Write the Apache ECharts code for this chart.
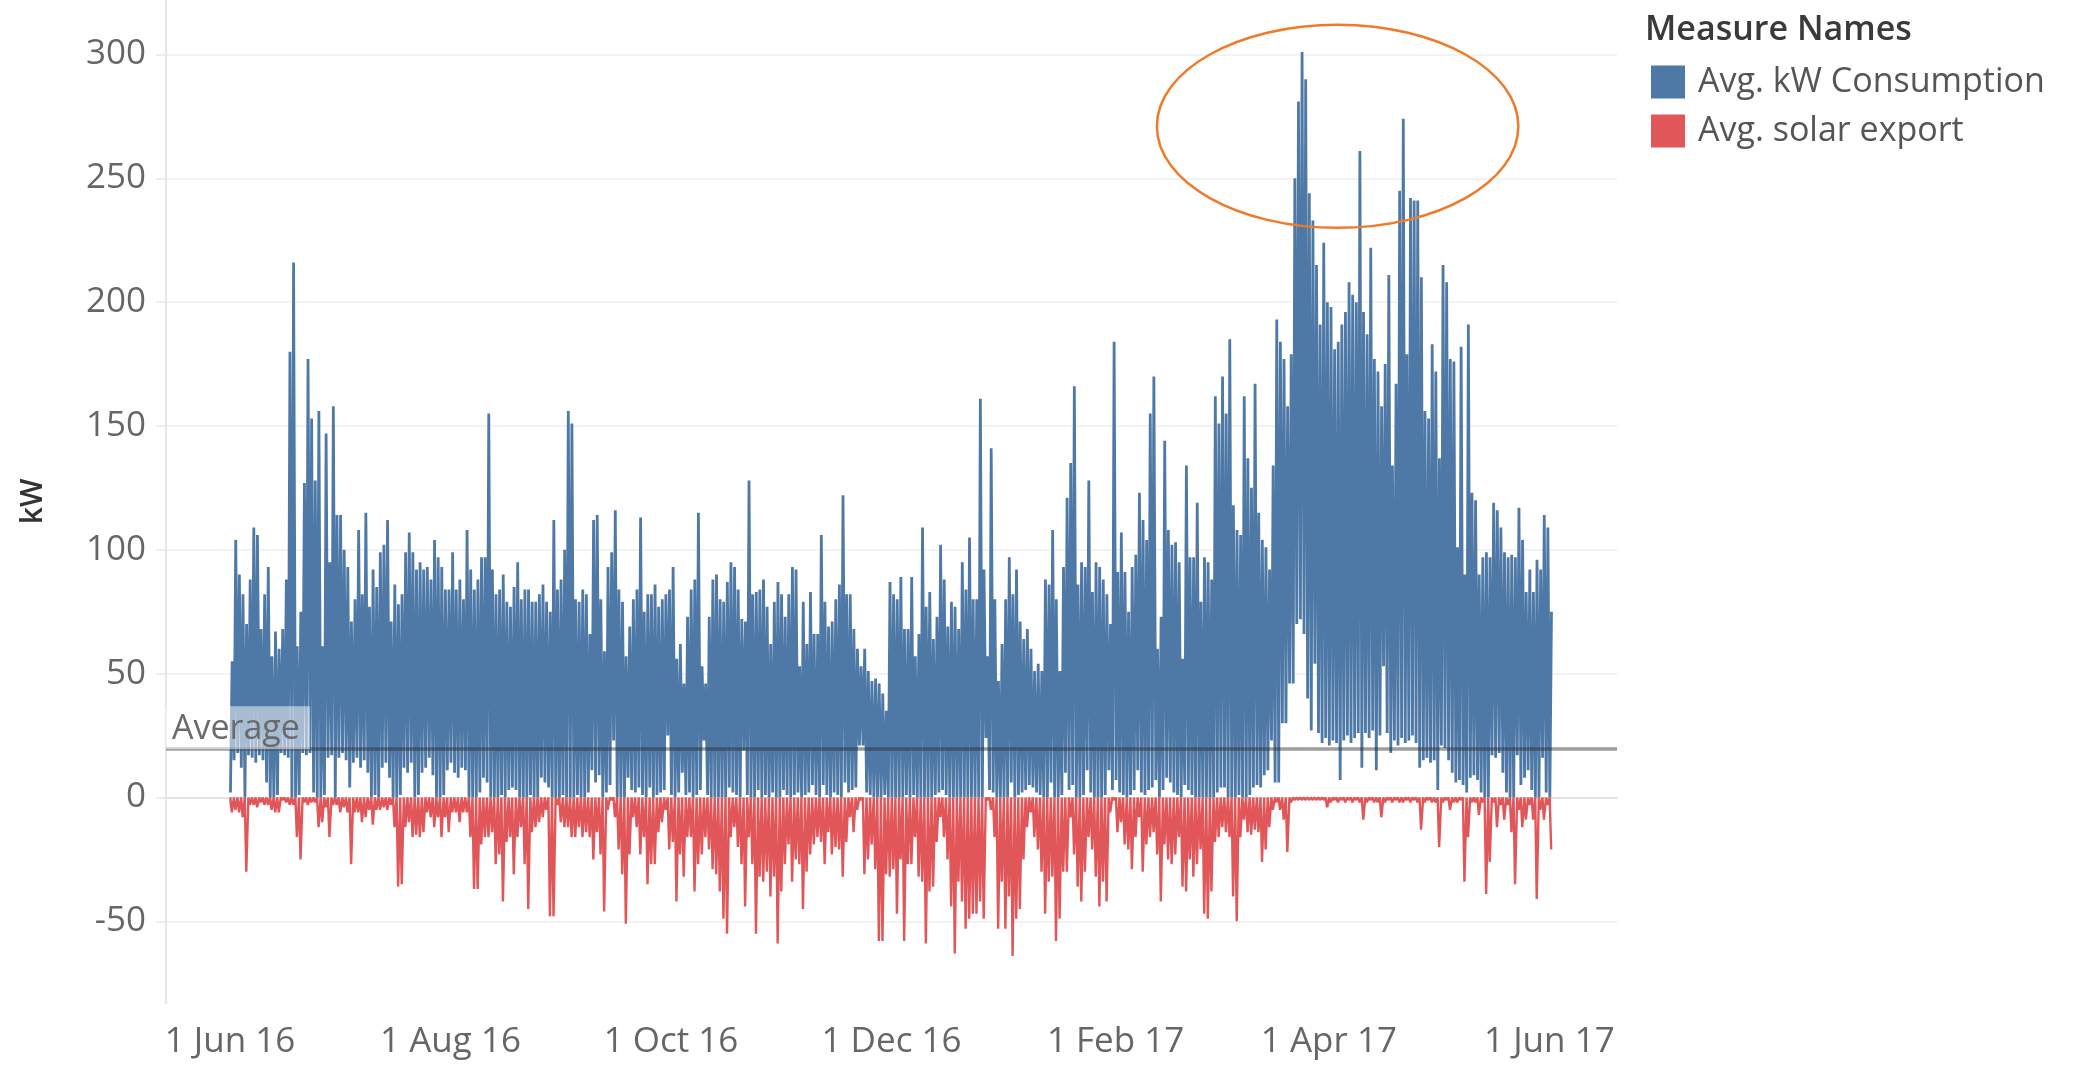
<!DOCTYPE html>
<html>
<head>
<meta charset="utf-8">
<script src="https://cdn.jsdelivr.net/npm/echarts@6/dist/echarts.min.js"></script>
<style>
html,body{margin:0;padding:0;background:#fff;}
#main{width:2078px;height:1067px;}
</style>
</head>
<body>
<div id="main"></div>
<script>
// day 0 = 1 Jun 2016, one entry per day
//每日最高 kW (Avg. kW Consumption)
var peakJunAug = [
	55,104,90,82,70,88,109,106,68,82,
	93,57,67,60,68,88,180,216,61,75,
	127,177,153,128,156,61,147,95,158,114,
	114,100,93,71,80,108,82,115,77,92,
	85,99,102,112,71,86,78,82,99,107,
	99,92,95,92,93,88,104,97,93,84,
	84,99,84,88,80,108,92,84,88,97,
	97,155,92,82,84,90,79,77,85,95,
	80,84,84,79,79,82,86,79,75,112,
	84
];
var peakSepNov = [
	88,100,156,151,80,79,84,82,66,112,
	114,80,59,93,99,116,84,79,57,69,
	80,84,113,75,82,82,86,77,80,82,
	84,93,56,62,46,73,84,88,115,53,
	46,73,88,90,80,79,87,95,93,84,
	72,71,128,82,83,84,88,77,62,79,
	87,82,73,82,93,92,53,79,62,83,
	66,66,106,79,69,71,80,86,122,82,
	82,68,60,53,60,51,47,48,46,42,
	35,87
];
var peakDecFeb = [
	82,80,89,68,68,89,57,66,109,77,
	83,64,73,102,88,69,79,77,68,95,
	84,105,80,80,161,92,57,141,80,47,
	62,80,97,82,92,71,64,68,60,51,
	54,51,88,86,108,80,51,93,121,135,
	166,86,95,93,128,83,95,93,88,82,
	70,184,91,107,91,75,93,98,123,112,
	104,155,170,60,73,144,108,102,103,95,
	56,134,97,97,119,79,97,95,88,162,
	151
];
var peakMarMay = [
	170,155,185,118,108,106,162,137,125,167,
	115,104,101,92,134,193,184,177,158,179,
	250,281,301,290,244,233,215,191,224,200,
	198,181,184,191,196,208,203,200,261,196,
	187,222,177,172,158,175,211,134,167,245,
	274,179,242,241,241,210,156,153,183,172,
	137,215,208,177,176,101,182,90,191,123,
	120,90,97,99,97,119,116,109,99,97,
	98,97,117,104,83,92,83,96,92,114,
	109,75
];
//每日最低 kW
var lowJunAug = [
	2,15,18,12,0,17,16,14,17,15,
	6,0,0,1,18,17,16,0,0,1,
	18,17,18,2,0,0,1,16,17,0,
	16,18,15,4,14,16,12,15,10,0,
	1,0,12,14,8,0,0,1,12,10,
	14,0,1,10,12,16,9,0,0,1,
	11,14,10,8,12,11,0,0,0,2,
	8,6,0,0,0,1,0,3,4,3,
	0,0,0,1,0,0,8,6,4,0,
	0
];
var lowSepNov = [
	0,1,0,0,0,1,0,0,2,11,
	6,9,0,2,5,23,0,0,0,8,
	3,2,4,1,0,4,0,1,2,3,
	25,1,0,2,10,1,2,0,1,3,
	23,1,0,0,0,0,0,4,2,1,
	0,19,1,0,0,3,0,1,0,2,
	0,0,3,1,0,1,2,0,1,2,
	5,1,0,5,1,0,2,1,0,6,
	2,3,4,21,21,2,1,0,0,0,
	1,0
];
var lowDecFeb = [
	0,0,0,0,1,0,1,0,0,0,
	0,0,1,2,3,1,0,0,0,0,
	0,0,0,0,0,0,24,3,2,0,
	0,0,0,6,0,1,2,3,5,4,
	2,1,0,0,6,0,0,1,10,3,
	5,0,0,1,11,2,0,0,0,1,
	11,3,7,2,1,0,1,3,11,2,
	1,3,4,7,0,3,8,6,2,1,
	0,5,3,1,0,0,0,0,0,0,
	2
];
var lowMarMay = [
	4,4,0,0,0,1,0,0,1,4,
	5,4,9,11,23,6,6,30,30,46,
	46,70,72,66,40,27,54,26,22,24,
	21,23,22,7,23,25,22,24,26,12,
	26,24,27,11,25,53,26,18,23,21,
	24,22,23,25,22,12,15,16,14,15,
	3,21,20,15,10,6,7,5,2,8,
	9,7,2,0,0,17,16,18,10,2,
	0,0,17,5,8,11,3,0,0,16,
	2,0
];
//每日最大 solar export (负值)
var solarJunAug = [
	-6,-5,-6,-8,-30,-3,-3,-4,-2,-3,
	-3,-5,-6,-6,-1,-2,-3,-3,-16,-25,
	-2,-3,-2,-2,-12,-10,-4,-16,-3,-3,
	-6,-4,-6,-27,-6,-6,-10,-8,-5,-11,
	-5,-5,-4,-5,-3,-12,-36,-35,-12,-10,
	-16,-15,-16,-14,-6,-8,-12,-8,-16,-8,
	-14,-6,-6,-10,-6,-6,-16,-37,-37,-19,
	-16,-16,-14,-27,-23,-42,-18,-16,-31,-16,
	-12,-27,-45,-14,-12,-10,-8,-5,-48,-48,
	-3
];
var solarSepNov = [
	-10,-12,-12,-16,-16,-12,-16,-14,-16,-25,
	-14,-23,-46,-5,-1,-8,-21,-31,-51,-23,
	-8,-12,-23,-16,-35,-27,-27,-14,-10,-5,
	-21,-18,-42,-23,-32,-16,-16,-38,-27,-23,
	-16,-21,-29,-31,-38,-49,-55,-16,-12,-20,
	-27,-44,-16,-27,-55,-32,-34,-30,-40,-32,
	-59,-38,-27,-19,-34,-25,-27,-45,-30,-23,
	-19,-16,-18,-27,-14,-23,-20,-21,-32,-18,
	-8,-14,-5,-1,-31,-25,-19,-29,-58,-58,
	-31,-32
];
var solarDecFeb = [
	-29,-47,-25,-58,-27,-27,-16,-32,-34,-59,
	-38,-36,-18,-8,-16,-25,-44,-63,-34,-42,
	-53,-49,-47,-47,-42,-49,-1,-5,-16,-53,
	-34,-53,-40,-64,-49,-45,-25,-12,-6,-16,
	-21,-30,-47,-34,-32,-58,-49,-30,-30,-8,
	-23,-36,-42,-30,-16,-21,-32,-44,-34,-42,
	-6,-1,-14,-10,-19,-21,-29,-16,-8,-30,
	-19,-16,-14,-23,-42,-19,-25,-27,-23,-16,
	-36,-38,-25,-32,-27,-21,-47,-49,-38,-18,
	-16
];
var solarMarMay = [
	-12,-14,-16,-40,-50,-16,-9,-14,-15,-13,
	-14,-26,-21,-12,-5,-2,-5,-9,-22,-2,
	-1,-1,-1,-1,-1,-1,-1,-1,-1,-4,
	-2,-1,-2,-1,-2,-1,-2,-1,-2,-9,
	-2,-1,-2,-2,-8,-2,-1,-2,-1,-2,
	-2,-1,-2,-1,-2,-13,-2,-1,-2,-2,
	-20,-2,-1,-5,-2,-2,-1,-34,-16,-2,
	-2,-7,-2,-39,-26,-2,-12,-3,-9,-3,
	-14,-35,-5,-12,-9,-3,-9,-41,-5,-9,
	-3,-21
];
var averageKw = 19.5;
var gridValues = [-50, 0, 50, 100, 150, 200, 250, 300];
var tickLabels = ['1 Jun 16', '1 Aug 16', '1 Oct 16', '1 Dec 16', '1 Feb 17', '1 Apr 17', '1 Jun 17'];
var labelMonths = [[2016, 5], [2016, 7], [2016, 9], [2016, 11], [2017, 1], [2017, 3], [2017, 5]];
var seriesNames = ['Avg. kW Consumption', 'Avg. solar export'];
//标注圈
var ringCenter = [2017, 3, 3, 10, 271];
var ringRadius = [50, 41]; // days, kW

var peaks = peakJunAug.concat(peakSepNov, peakDecFeb, peakMarMay);
var lows = lowJunAug.concat(lowSepNov, lowDecFeb, lowMarMay);
var solar = solarJunAug.concat(solarSepNov, solarDecFeb, solarMarMay);

function ts(y, m, d, h) {
	return new Date(y, m, d, h || 0).getTime();
}

var consumption = [];
var exportKw = [];
for(var i = 0; i < peaks.length; i++) {
	consumption.push([ts(2016, 5, 1 + i, 3), lows[i]]);
	consumption.push([ts(2016, 5, 1 + i, 14), peaks[i]]);
	exportKw.push([ts(2016, 5, 1 + i, 2), 0]);
	exportKw.push([ts(2016, 5, 1 + i, 12), solar[i]]);
}

var labelTimes = [];
var labelMap = {};
for(var k = 0; k < labelMonths.length; k++) {
	var t = ts(labelMonths[k][0], labelMonths[k][1], 1);
	labelTimes.push(t);
	labelMap[t] = tickLabels[k];
}
var monthTicks = [];
for(var m = 0; m <= 12; m++) {
	monthTicks.push(ts(2016, 5 + m, 1));
}

var font = "'Open Sans', 'DejaVu Sans', sans-serif";
var myChart = echarts.init(document.getElementById('main'));
var option = {
	animation: false,
	color: ['#4e79a7', '#e15759'],
	title: {
		text: 'Measure Names',
		left: 1640,
		top: 8,
		textStyle: {
			fontFamily: font,
			fontSize: 34,
			fontWeight: 600,
			color: '#3a3a3a'
		}
	},
	legend: {
		data: seriesNames,
		orient: 'vertical',
		left: 1646,
		top: 60,
		icon: 'rect',
		itemWidth: 34,
		itemHeight: 33,
		itemGap: 15,
		textStyle: {
			fontFamily: font,
			fontSize: 34,
			color: '#555',
			padding: [0, 0, 0, 8]
		}
	},
	grid: {
		left: 166,
		right: 461,
		top: 0,
		bottom: 64,
		containLabel: false
	},
	xAxis: {
		type: 'value',
		min: ts(2016, 4, 14, 7),
		max: ts(2017, 5, 19, 17),
		axisLine: {
			show: true,
			lineStyle: { color: '#e3e3e3', width: 2 }
		},
		axisTick: {
			show: true,
			customValues: monthTicks,
			length: 10,
			lineStyle: { color: '#d9d9d9', width: 1.5 }
		},
		axisLabel: {
			customValues: labelTimes,
			formatter: function(value) {
				return labelMap[value] || '';
			},
			margin: 22,
			fontFamily: font,
			fontSize: 35,
			color: '#666'
		},
		splitLine: { show: false }
	},
	yAxis: {
		type: 'value',
		min: -83,
		max: 322,
		name: 'kW',
		nameLocation: 'middle',
		nameGap: 118,
		nameRotate: 90,
		nameTextStyle: {
			fontFamily: font,
			fontSize: 30,
			fontWeight: 600,
			color: '#333'
		},
		axisLine: {
			show: true,
			lineStyle: { color: '#e6e6e6', width: 2 }
		},
		axisTick: {
			show: true,
			customValues: gridValues,
			length: 10,
			lineStyle: { color: '#e6e6e6', width: 1.5 }
		},
		axisLabel: {
			customValues: gridValues,
			margin: 20,
			fontFamily: font,
			fontSize: 35,
			color: '#666'
		},
		splitLine: { show: false }
	},
	series: [{
		type: 'line',
		data: [],
		z: 0,
		silent: true,
		markLine: {
			z: 0,
			silent: true,
			symbol: 'none',
			animation: false,
			label: { show: false },
			data: gridValues.map(function(v) {
				return {
					yAxis: v,
					lineStyle: v === 0 ? { color: '#b5b5b5', width: 2, type: 'dotted' } : { color: '#efefef', width: 1.5, type: 'solid' }
				};
			})
		}
	}, {
		name: seriesNames[0],
		type: 'line',
		data: consumption,
		z: 2,
		showSymbol: false,
		sampling: false,
		lineStyle: { width: 2.8, color: '#4e79a7', join: 'bevel' },
		itemStyle: { color: '#4e79a7' }
	}, {
		name: seriesNames[1],
		type: 'line',
		data: exportKw,
		z: 3,
		showSymbol: false,
		sampling: false,
		lineStyle: { width: 2.4, color: '#e15759', join: 'bevel' },
		itemStyle: { color: '#e15759' }
	}, {
		type: 'line',
		data: [],
		z: 4,
		silent: true,
		markLine: {
			z: 6,
			silent: true,
			symbol: 'none',
			animation: false,
			lineStyle: { color: 'rgba(40,40,40,0.45)', width: 3.5, type: 'solid' },
			label: {
				show: true,
				position: 'insideStartTop',
				formatter: 'Average',
				distance: 0,
				fontFamily: font,
				fontSize: 34,
				color: '#6a6a6a',
				backgroundColor: 'rgba(255,255,255,0.5)',
				padding: [6, 10, 3, 6]
			},
			data: [{ yAxis: averageKw }]
		}
	}]
};
myChart.setOption(option);

//橙色标注椭圆
var c = myChart.convertToPixel({ gridIndex: 0 }, [ts(ringCenter[0], ringCenter[1], ringCenter[2], ringCenter[3]), ringCenter[4]]);
var e = myChart.convertToPixel({ gridIndex: 0 }, [ts(ringCenter[0], ringCenter[1], ringCenter[2] + ringRadius[0], ringCenter[3]), ringCenter[4] + ringRadius[1]]);
myChart.setOption({
	graphic: [{
		type: 'ellipse',
		z: 100,
		silent: true,
		shape: { cx: c[0], cy: c[1], rx: e[0] - c[0], ry: c[1] - e[1] },
		style: { fill: 'none', stroke: '#ee7b2a', lineWidth: 2.5 }
	}]
});
</script>
</body>
</html>
